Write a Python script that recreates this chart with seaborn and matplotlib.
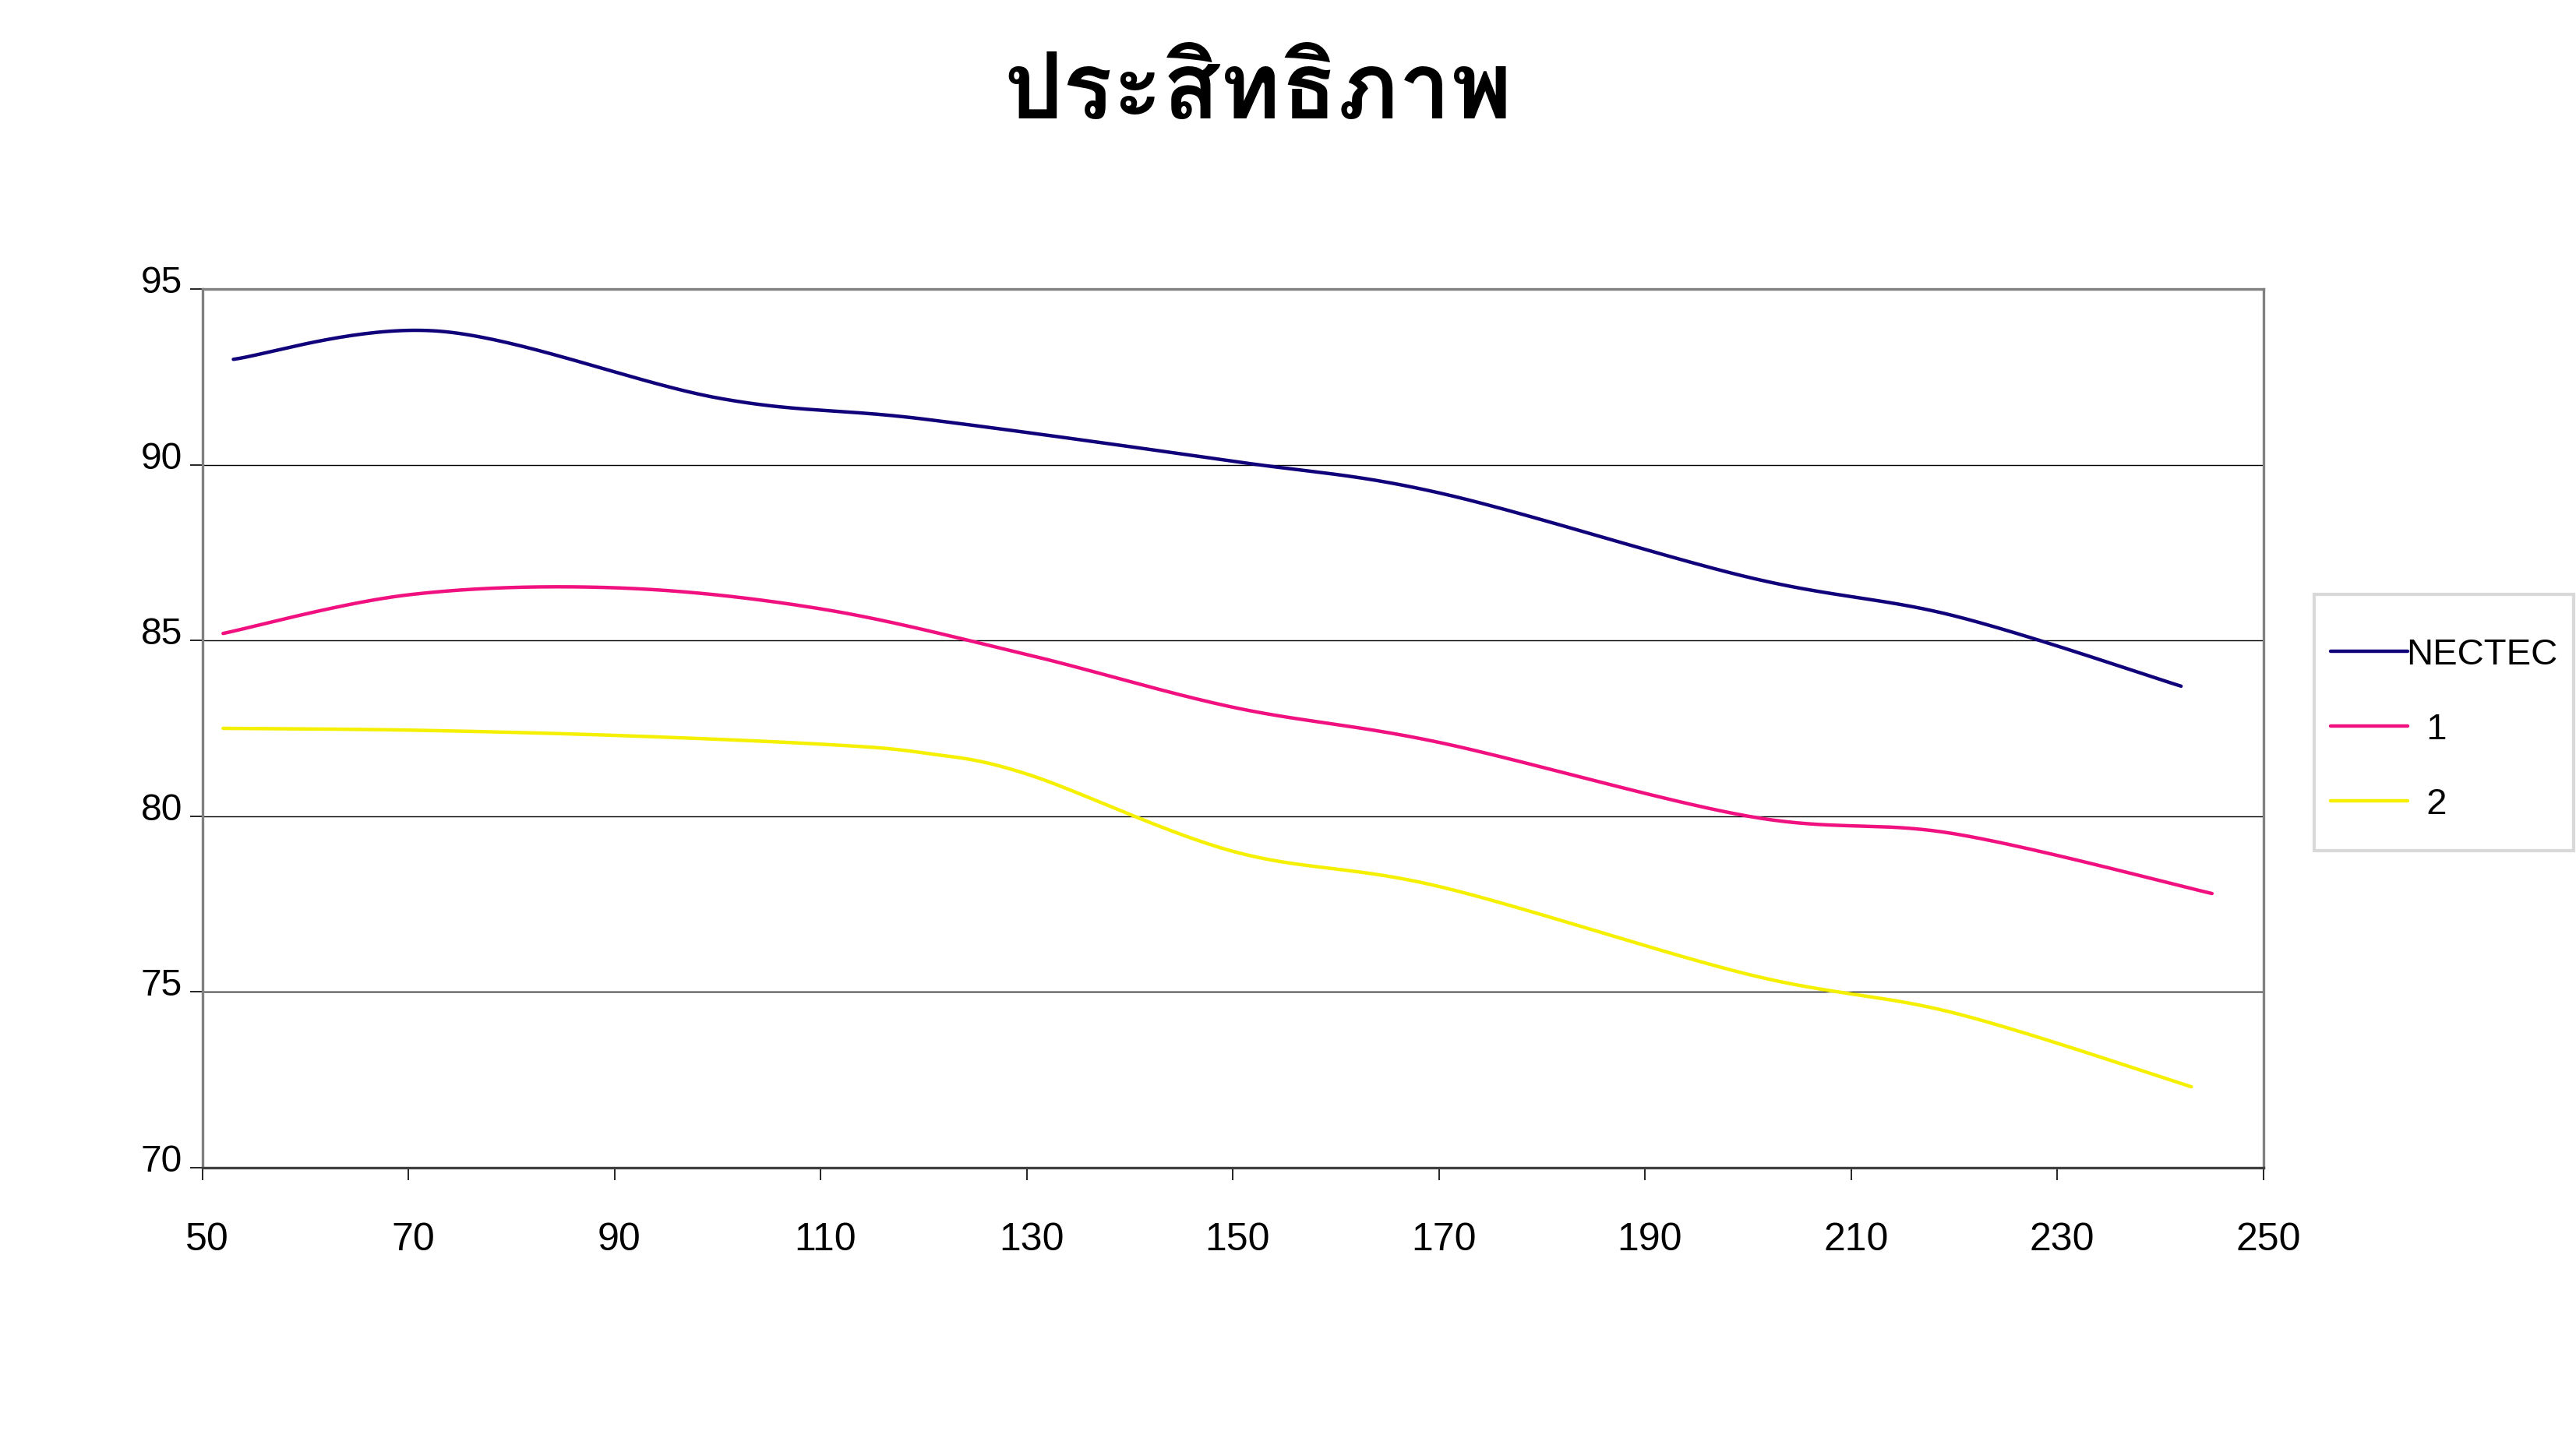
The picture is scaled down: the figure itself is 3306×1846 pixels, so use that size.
import numpy as np
import pandas as pd
import seaborn as sns
import matplotlib
matplotlib.use('Agg')
import matplotlib.pyplot as plt
from matplotlib.lines import Line2D
from matplotlib.patches import Rectangle
import matplotlib.transforms as mtransforms

TITLE = 'ประสิทธิภาพ'
SERIES = ['NECTEC', '1', '2']
LEGEND_LABELS = ['NECTEC', '  1', '  2']
COLORS = ['#10007a', '#f0107f', '#f5f000']

nectec_x = [53, 73, 100, 120, 150, 170, 200, 220, 242]
nectec_y = [93.0, 93.8, 91.9, 91.3, 90.1, 89.2, 86.8, 85.7, 83.7]
s1_x = [52, 70, 90, 110, 130, 150, 170, 200, 220, 245]
s1_y = [85.2, 86.3, 86.5, 85.9, 84.6, 83.1, 82.1, 80.0, 79.5, 77.8]
s2_x = [52, 70, 90, 110, 120, 130, 150, 170, 200, 220, 243]
s2_y = [82.5, 82.45, 82.3, 82.05, 81.8, 81.2, 79.0, 78.0, 75.5, 74.4, 72.3]

x_ticks = list(range(50, 251, 20))
y_ticks = [70, 75, 80, 85, 90, 95]


def smooth(xs, ys, n=40):
    # Excel style smoothed line: cubic bezier through the points
    pts = np.column_stack([xs, ys]).astype(float)
    out = []
    for i in range(len(pts) - 1):
        p0 = pts[max(i - 1, 0)]
        p1 = pts[i]
        p2 = pts[i + 1]
        p3 = pts[min(i + 2, len(pts) - 1)]
        c1 = p1 + (p2 - p0) / 6.0
        c2 = p2 - (p3 - p1) / 6.0
        t = np.linspace(0, 1, n)[:, None]
        seg = ((1 - t) ** 3) * p1 + 3 * ((1 - t) ** 2) * t * c1 + 3 * (1 - t) * t ** 2 * c2 + t ** 3 * p2
        out.append(seg if i == 0 else seg[1:])
    return np.vstack(out)


frames = []
for name, xs, ys in zip(SERIES, [nectec_x, s1_x, s2_x], [nectec_y, s1_y, s2_y]):
    pts = smooth(xs, ys)
    frames.append(pd.DataFrame({'x': pts[:, 0], 'y': pts[:, 1], 'series': name}))
df = pd.concat(frames, ignore_index=True)

sns.set_style('white')
plt.rcParams['font.family'] = ['Liberation Sans', 'DejaVu Sans']
plt.rcParams['text.color'] = 'black'
plt.rcParams['xtick.color'] = 'black'
plt.rcParams['ytick.color'] = 'black'

fig = plt.figure(figsize=(33.06, 18.46), dpi=100)
ax = fig.add_axes([0.0786, 0.188, 0.8001, 0.611])

sns.lineplot(data=df, x='x', y='y', hue='series', hue_order=SERIES,
             palette=COLORS, sort=False, estimator=None, linewidth=3.2,
             legend=False, ax=ax)

ax.set_xlim(50, 250)
ax.set_ylim(70, 95)
ax.set_xticks(x_ticks)
ax.set_yticks(y_ticks)
ax.set_xlabel('')
ax.set_ylabel('')
for y in y_ticks[1:-1]:
    ax.axhline(y, color='black', linewidth=1.0, zorder=0)

for side in ['left', 'top', 'right']:
    ax.spines[side].set_color('#808080')
    ax.spines[side].set_linewidth(2.4)
ax.spines['bottom'].set_color('#404040')
ax.spines['bottom'].set_linewidth(2.4)
ax.tick_params(axis='both', direction='out', length=11.5, width=1.2, color='black',
               labelcolor='black', left=True, bottom=True)
ax.tick_params(axis='x', pad=39, labelsize=36)
ax.tick_params(axis='y', pad=7, labelsize=34.5)
shift = mtransforms.ScaledTranslation(0, 12.5 / 100, fig.dpi_scale_trans)
for lab in ax.get_yticklabels():
    lab.set_transform(lab.get_transform() + shift)
xshift = mtransforms.ScaledTranslation(6 / 100, 0, fig.dpi_scale_trans)
for lab in ax.get_xticklabels():
    lab.set_transform(lab.get_transform() + xshift)

# legend box drawn by hand, entries placed inside it
fig.patches.append(Rectangle((2970 / 3306, 1 - 1092 / 1846), 333 / 3306, 329 / 1846,
                             transform=fig.transFigure, facecolor='white',
                             edgecolor='#d9d9d9', linewidth=3, zorder=-1))
handles = [Line2D([0], [0], color=c, linewidth=3.2) for c in COLORS]
leg = fig.legend(handles, LEGEND_LABELS, loc='upper left',
                 bbox_to_anchor=(2991 / 3306, 1 - 819 / 1846),
                 fontsize=34, handlelength=2.1, handletextpad=-0.05,
                 labelspacing=1.1, borderpad=0, borderaxespad=0,
                 frameon=False)

fig.text(0.4885, 0.9177, TITLE, ha='center', va='baseline', fontsize=86,
         fontweight='bold', family=['Loma', 'DejaVu Sans'])

fig.savefig('out.png', dpi=100)
